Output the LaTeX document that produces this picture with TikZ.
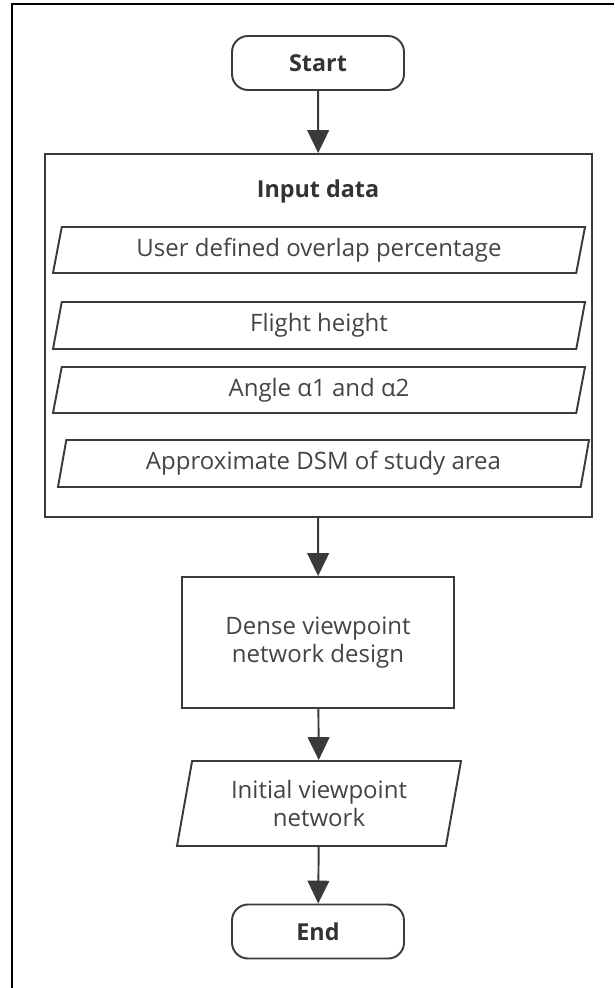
\documentclass[tikz,border=0pt]{standalone}
\usepackage{fontspec}
\setmainfont{Open Sans}
\usetikzlibrary{arrows.meta,shapes.geometric}
\definecolor{edge}{HTML}{3A3A3A}
\definecolor{ink}{HTML}{444444}
\definecolor{inkdark}{HTML}{333333}
\def\pxu{0.75pt}
\tikzset{
  base/.style={draw=edge, line width=1.45pt, inner sep=0pt, text=ink,
    font=\fontsize{18}{21}\selectfont, align=center},
  terminal/.style={base, rectangle, rounded corners=12pt, text=inkdark,
    font=\fontsize{17.5}{21}\selectfont\bfseries,
    minimum width=172*\pxu, minimum height=54*\pxu},
  process/.style={base, rectangle},
  iobox/.style={base, trapezium, trapezium stretches body,
    trapezium left angle=#1, trapezium right angle=180-#1},
  flow/.style={color=edge, line width=1.45pt,
    -{Triangle[scale=2.05, scale length=2.5]}},
}
\begin{document}
% coordinates are in pixels, measured downwards from the top edge
\begin{tikzpicture}[x=0.75pt, y=0.75pt]
  \useasboundingbox (0,0) rectangle (614,-988);
  % outer frame (left and top edges)
  \draw[black, line width=1.2pt] (12,-988) -- (12,-4) -- (614,-4);

  \node[terminal] (start) at (318,-63) {Start};

  \node[process, minimum width=547*\pxu, minimum height=363*\pxu] (input) at (318.5,-335.5) {};
  \node[text=inkdark, font=\fontsize{17.5}{21}\selectfont\bfseries] (inputlabel) at (318,-191) {Input data};

  \node[iobox=70, minimum width=532*\pxu, minimum height=46*\pxu] (overlap) at (319,-250) {User defined overlap percentage};
  \node[iobox=70, minimum width=532*\pxu, minimum height=47*\pxu] (height) at (319,-325.5) {Flight height};
  \node[iobox=70, minimum width=532*\pxu, minimum height=46*\pxu] (angle) at (319,-390) {Angle α1 and α2};
  \node[iobox=71, minimum width=531*\pxu, minimum height=47*\pxu] (dsm) at (323.5,-463.5) {Approximate DSM of study area};

  \node[process, minimum width=272*\pxu, minimum height=131*\pxu] (dense) at (318,-642.5) {Dense viewpoint\\network design};

  \node[iobox=72, minimum width=284*\pxu, minimum height=85*\pxu] (initial) at (319,-803.5) {Initial viewpoint\\network};

  \node[terminal] (finish) at (318,-931.5) {End};

  \draw[flow] (start) -- (input);
  \draw[flow] (input) -- (dense);
  \draw[flow] (dense) -- (initial);
  \draw[flow] (initial) -- (finish);
\end{tikzpicture}
\end{document}
